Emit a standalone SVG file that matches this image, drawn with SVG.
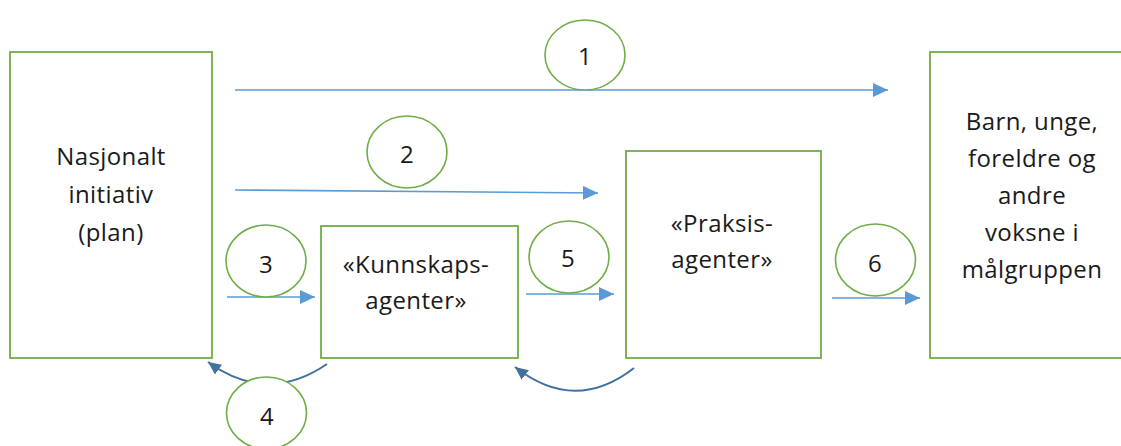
<svg xmlns="http://www.w3.org/2000/svg" width="1121" height="446" viewBox="0 0 1121 446">
<style>
.box{fill:#fff;stroke:#70AD47;stroke-width:1.8}
.badge{fill:#fff;stroke:#70AD47;stroke-width:1.6}
.t{font-family:"Open Sans","Liberation Sans",sans-serif;font-size:24px;letter-spacing:0.4px;fill:#1a1a1a;text-anchor:middle}
.arr{fill:none;stroke:#5B9BD5;stroke-width:1.6}
.back{fill:none;stroke:#41719C;stroke-width:2}
</style>
<defs>
<marker id="ah" markerUnits="userSpaceOnUse" markerWidth="15" markerHeight="14" refX="15" refY="7" orient="auto">
<path d="M0,0 L15,7 L0,14 z" fill="#5B9BD5"/>
</marker>
<marker id="ah2" markerUnits="userSpaceOnUse" markerWidth="13" markerHeight="12" refX="13" refY="6" orient="auto">
<path d="M0,0 L13,6 L0,12 z" fill="#41719C"/>
</marker>
</defs>
<rect width="1121" height="446" fill="#fff"/>
<g id="n-nasjonalt">
<rect class="box" x="10" y="52" width="202" height="306"/>
<text class="t" x="111" y="165">Nasjonalt</text>
<text class="t" x="111" y="203">initiativ</text>
<text class="t" x="111" y="241">(plan)</text>
</g>
<g id="n-kunnskap">
<rect class="box" x="321" y="226" width="197" height="132"/>
<text class="t" x="416" y="273">«Kunnskaps-</text>
<text class="t" x="416" y="309">agenter»</text>
</g>
<g id="n-praksis">
<rect class="box" x="626" y="151" width="195" height="207"/>
<text class="t" x="722" y="232">«Praksis-</text>
<text class="t" x="722" y="268">agenter»</text>
</g>
<g id="n-barn">
<rect class="box" x="930" y="52" width="205" height="306"/>
<text class="t" x="1032" y="130">Barn, unge,</text>
<text class="t" x="1032" y="167">foreldre og</text>
<text class="t" x="1032" y="204">andre</text>
<text class="t" x="1032" y="241">voksne i</text>
<text class="t" x="1032" y="278">målgruppen</text>
</g>
<g id="connectors">
<path class="arr" d="M235,90 H888" marker-end="url(#ah)"/>
<path class="arr" d="M235,190 L598,193" marker-end="url(#ah)"/>
<path class="arr" d="M227,297 H315" marker-end="url(#ah)"/>
<path class="arr" d="M526,294 H614" marker-end="url(#ah)"/>
<path class="arr" d="M832,298 H920" marker-end="url(#ah)"/>
<path class="back" d="M327,364 Q267,405 208,362" marker-end="url(#ah2)"/>
<path class="back" d="M634,368 Q575,414 515,367" marker-end="url(#ah2)"/>
</g>
<g id="b1"><ellipse class="badge" cx="585" cy="55" rx="40" ry="35"/><text class="t" x="585" y="65">1</text></g>
<g id="b2"><ellipse class="badge" cx="407" cy="152" rx="40" ry="36"/><text class="t" x="407" y="163">2</text></g>
<g id="b3"><ellipse class="badge" cx="266" cy="261" rx="40" ry="36"/><text class="t" x="266" y="273">3</text></g>
<g id="b4"><ellipse class="badge" cx="266.5" cy="413" rx="40" ry="36"/><text class="t" x="267" y="425">4</text></g>
<g id="b5"><ellipse class="badge" cx="569" cy="257" rx="40" ry="36"/><text class="t" x="568" y="267">5</text></g>
<g id="b6"><ellipse class="badge" cx="875.5" cy="260" rx="40" ry="36"/><text class="t" x="875" y="272">6</text></g>
</svg>
